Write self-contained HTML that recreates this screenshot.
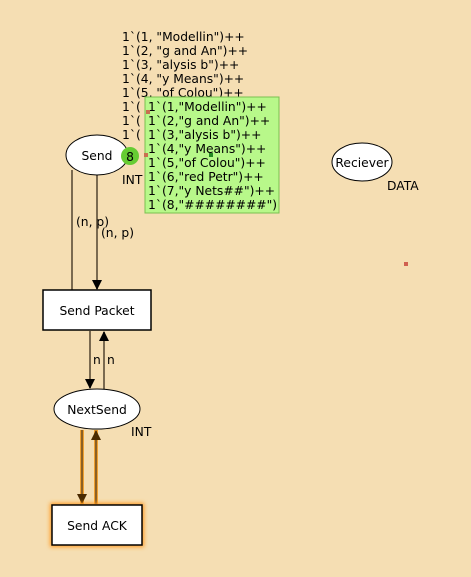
<!DOCTYPE html>
<html><head><style>
body{margin:0;width:471px;height:572px;background:#f5deb3;overflow:hidden}
svg{font-family:"DejaVu Sans","Liberation Sans",sans-serif;font-size:12.3px}
</style></head><body>
<svg width="471" height="572" xmlns="http://www.w3.org/2000/svg">
<defs>
<marker id="a" markerWidth="10" markerHeight="10" refX="9" refY="5" orient="auto" markerUnits="userSpaceOnUse"><path d="M0,0 L10,5 L0,10z" fill="#000"/></marker>
<marker id="b" markerWidth="10" markerHeight="10" refX="9" refY="5" orient="auto" markerUnits="userSpaceOnUse"><path d="M0,0 L10,5 L0,10z" fill="#4a2a00"/></marker>
<filter id="g" x="-20%" y="-30%" width="140%" height="160%"><feGaussianBlur stdDeviation="2"/></filter>
</defs>
<g fill="#000">
<text x="122" y="41">1`(1, "Modellin")++</text>
<text x="122" y="55">1`(2, "g and An")++</text>
<text x="122" y="69">1`(3, "alysis b")++</text>
<text x="122" y="83">1`(4, "y Means")++</text>
<text x="122" y="97">1`(5, "of Colou")++</text>
<text x="122" y="111">1`(</text>
<text x="122" y="125">1`(</text>
<text x="122" y="139">1`(</text>
</g>
<line x1="72" y1="170" x2="72" y2="290" stroke="#7a6a50" stroke-width="2"/>
<line x1="97" y1="175" x2="97" y2="289" stroke="#7a6a50" stroke-width="2" marker-end="url(#a)"/>
<ellipse cx="97" cy="155" rx="31" ry="20" fill="#fff" stroke="#000"/>
<text x="97" y="160" text-anchor="middle">Send</text>
<text x="122" y="184">INT</text>
<circle cx="130" cy="156" r="9" fill="#66cc33"/>
<text x="130" y="161" text-anchor="middle">8</text>
<rect x="145" y="97" width="134" height="116" fill="#b8f88a" stroke="#7ac050"/>
<g fill="#000">
<text x="148" y="111">1`(1,"Modellin")++</text>
<text x="148" y="125">1`(2,"g and An")++</text>
<text x="148" y="139">1`(3,"alysis b")++</text>
<text x="148" y="153">1`(4,"y Means")++</text>
<text x="148" y="167">1`(5,"of Colou")++</text>
<text x="148" y="181">1`(6,"red Petr")++</text>
<text x="148" y="195">1`(7,"y Nets##")++</text>
<text x="148" y="209">1`(8,"########")</text>
</g>
<rect x="144" y="153" width="4" height="4" fill="#c87050"/>
<rect x="146" y="110" width="4" height="4" fill="#c87050"/>
<rect x="209" y="153" width="4" height="4" fill="#228822"/>
<ellipse cx="362" cy="162" rx="30" ry="19" fill="#fff" stroke="#000"/>
<text x="362" y="167" text-anchor="middle">Reciever</text>
<text x="387" y="190">DATA</text>
<rect x="404" y="262" width="4" height="4" fill="#d06050"/>
<text x="76" y="226">(n, p)</text>
<text x="101" y="237">(n, p)</text>
<rect x="43" y="290" width="108" height="40" fill="#fff" stroke="#000" stroke-width="1.5"/>
<text x="97" y="315" text-anchor="middle">Send Packet</text>
<line x1="90" y1="331" x2="90" y2="388" stroke="#7a6a50" stroke-width="2" marker-end="url(#a)"/>
<line x1="104" y1="389" x2="104" y2="332" stroke="#7a6a50" stroke-width="2" marker-end="url(#a)"/>
<text x="93" y="364">n</text><text x="107" y="364">n</text>
<ellipse cx="97" cy="409" rx="43" ry="20" fill="#fff" stroke="#000"/>
<text x="97" y="414" text-anchor="middle">NextSend</text>
<text x="131" y="436">INT</text>
<line x1="82" y1="430" x2="82" y2="504" stroke="#f0a030" stroke-width="4"/>
<line x1="96" y1="504" x2="96" y2="430" stroke="#f0a030" stroke-width="4"/>
<line x1="82" y1="430" x2="82" y2="503" stroke="#6a4a20" stroke-width="1.5" marker-end="url(#b)"/>
<line x1="96" y1="504" x2="96" y2="431" stroke="#6a4a20" stroke-width="1.5" marker-end="url(#b)"/>
<rect x="50" y="503" width="94" height="44" fill="#ff9a20" filter="url(#g)"/>
<rect x="52" y="505" width="90" height="40" fill="#fff" stroke="#000" stroke-width="1.5"/>
<text x="97" y="530" text-anchor="middle">Send ACK</text>
</svg>
</body></html>
